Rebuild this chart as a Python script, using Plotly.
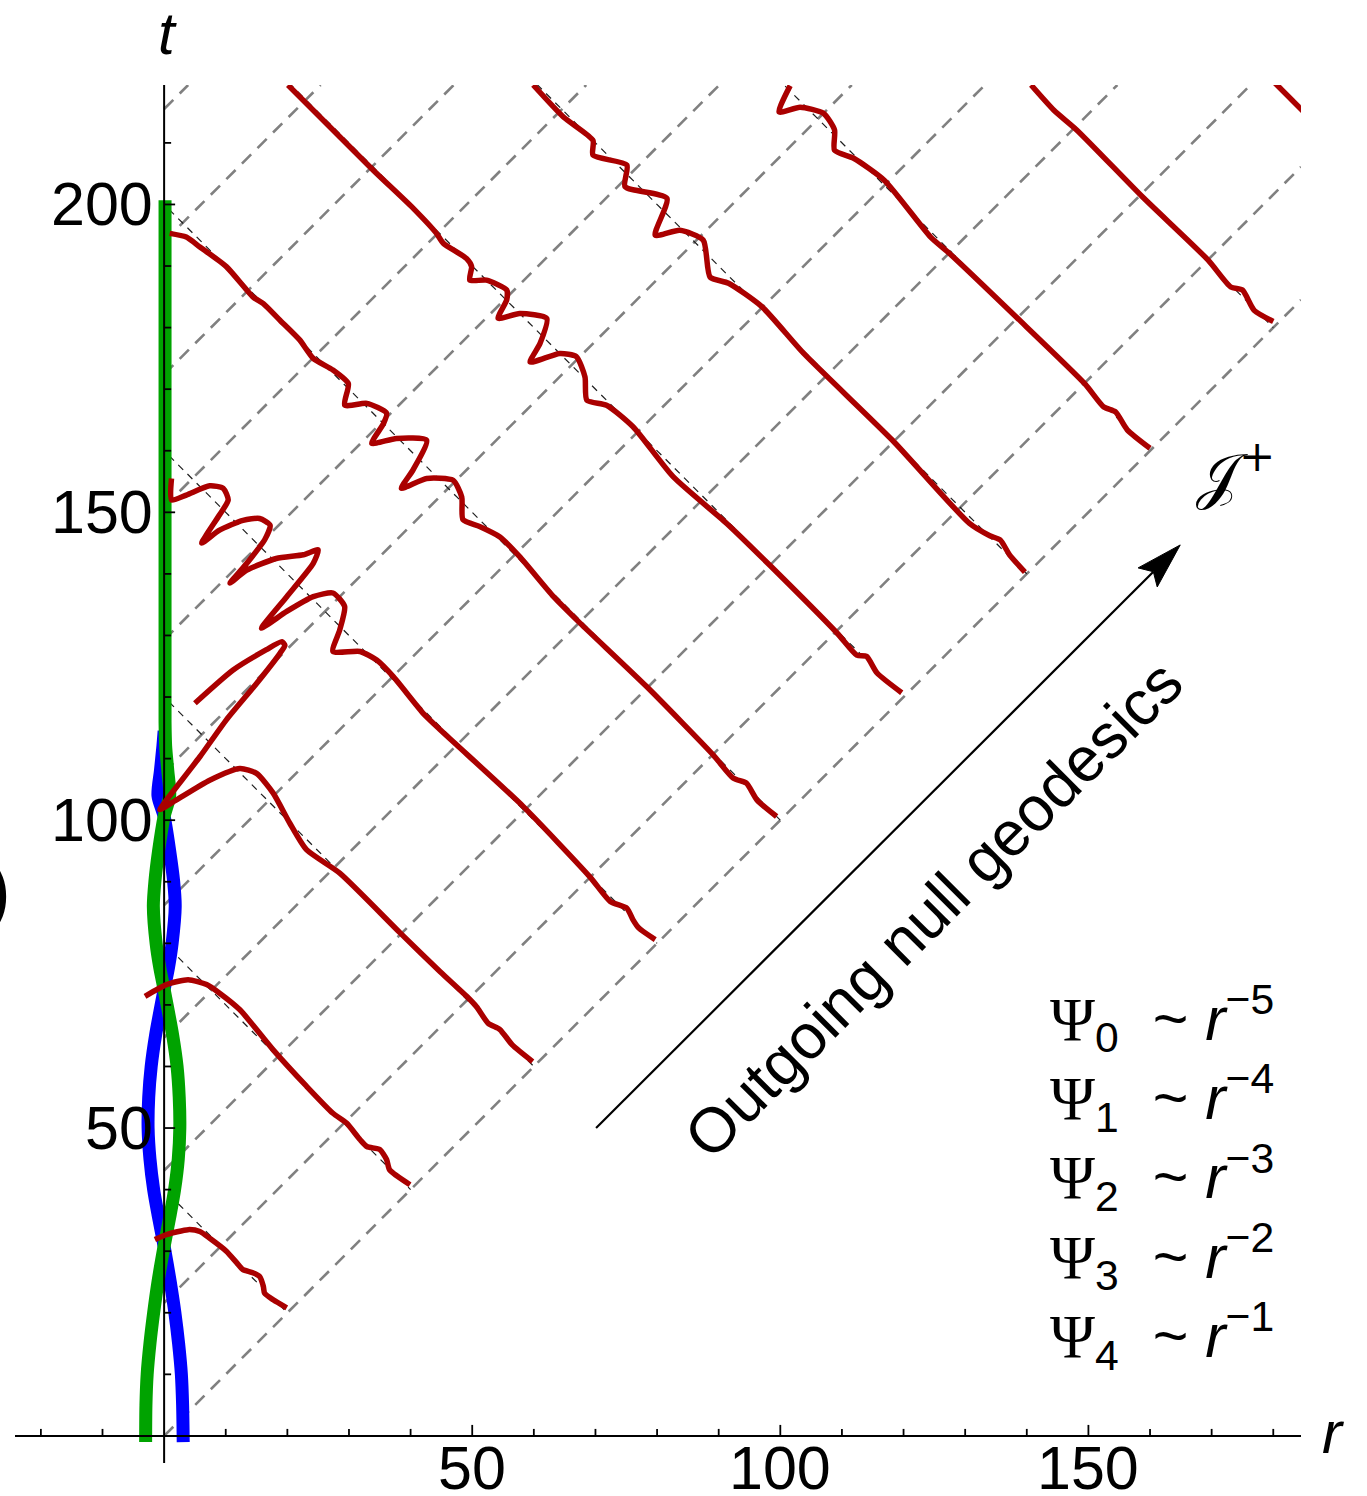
import math
import plotly.graph_objects as go

# ---------------- data ----------------
R_RANGE = [-24.2, 184.5]
T_RANGE = [-4.4, 219.4]

# outgoing null geodesics  t = r + d
NULL_OUT_D = [0.0, 21.6, 43.1, 64.7, 86.2, 107.8, 129.3, 150.9, 172.4, 194.0, 215.5]
# ingoing reference lines  t + r = c
NULL_IN_C = [40, 80, 120, 160, 200, 240, 280, 320, 360, 400]
NULL_IN_R0 = 0.8

# the two thick world-lines near r = 0
GREEN_T = [-1.0, 5, 10, 15, 20, 25, 30.8, 36, 40, 45, 50, 55, 60, 65, 72.5, 76, 80, 86, 90, 95,
           100.6, 104, 108, 112, 116, 200.7]
GREEN_R = [-3.0, -2.95, -2.75, -2.3, -1.7, -1.0, 0.0, 1.0, 1.7, 2.3, 2.55, 2.45, 2.1, 1.4, 0.0,
           -0.7, -1.3, -1.75, -1.5, -0.9, 0.0, 0.9, 0.6, 0.25, 0.15, 0.15]
BLUE_T = [-1.0, 5, 10, 15, 20, 25, 30.8, 36, 40, 45, 50, 55, 60, 65, 72.5, 76, 80, 86, 90, 95,
          100.6, 104, 108, 112, 114.5]
BLUE_R = [3.1, 3.0, 2.8, 2.35, 1.75, 1.0, 0.0, -1.0, -1.7, -2.3, -2.6, -2.5, -2.1, -1.4, 0.0,
          0.7, 1.3, 1.8, 1.55, 0.9, 0.0, -1.0, -0.6, -0.2, 0.0]

# red wave profiles (r, t), one per ingoing line
RED_R_40 = [-1.5, 0.4, 3.9, 5.8, 7.4, 10.1, 11.8, 12.8, 14.4, 15.5, 16.1, 16.3, 17.7, 19.9]
RED_T_40 = [31.9, 32.7, 33.5, 33.2, 32.1, 30.0, 28.1, 27.0, 26.5, 25.9, 24.3, 23.2, 22.1, 20.8]

RED_R_80 = [-3.1, 0.4, 3.9, 6.9, 9.0, 12.3, 17.7, 23.1, 27.4, 29.6, 31.8, 32.9, 35.0, 36.1, 36.6, 39.9]
RED_T_80 = [71.4, 73.3, 74.1, 73.3, 71.9, 69.2, 62.7, 56.8, 52.4, 50.8, 48.1, 47.0, 46.5, 44.9, 43.2, 40.8]

RED_R_120 = [5.0, 11.2, 16.6, 19.1, 19.6, 18.8, 15.0, 10.1, 5.8, 0.4, -0.7, 2.0, 7.4, 12.3, 15.0,
             17.7, 20.4, 23.1, 28.5, 38.3, 44.8, 49.1, 50.7, 52.6, 54.5, 56.5, 59.8]
RED_T_120 = [119.0, 124.4, 127.7, 129.0, 128.4, 127.1, 122.2, 116.3, 110.3, 103.3, 101.7, 103.3,
             106.5, 108.4, 107.6, 104.4, 99.5, 95.2, 91.4, 81.7, 75.4, 71.4, 69.7, 67.0, 66.0, 63.5, 60.8]

RED_R_160 = [1.2, 1.2, 3.6, 7.4, 9.6, 10.4, 9.0, 6.1, 9.0, 12.8, 15.5, 17.2, 16.3, 13.4, 10.7, 13.4,
             18.2, 22.6, 25.0, 24.2, 19.9, 15.8, 19.9, 24.2, 27.4, 29.3, 28.5, 27.4, 31.8, 34.5,
             37.2, 42.0, 44.8, 47.5, 58.3, 69.1, 72.4, 75.1, 76.1, 77.0, 79.7]
RED_T_160 = [155.5, 152.0, 152.8, 154.3, 153.9, 152.0, 149.6, 145.0, 147.1, 148.7, 149.0, 147.9,
             145.5, 141.7, 138.5, 140.6, 142.5, 143.1, 143.9, 141.7, 136.3, 131.2, 133.9, 136.3,
             136.9, 134.7, 130.9, 127.4, 127.4, 126.0, 123.3, 117.4, 114.7, 112.2, 102.2, 90.8,
             86.8, 85.7, 83.8, 82.5, 80.6]

RED_R_200 = [0.9, 3.6, 5.8, 10.1, 14.4, 16.1, 18.8, 22.0, 24.2, 27.4, 29.9, 29.3, 32.9, 36.1, 35.6,
             33.7, 37.7, 42.6, 40.4, 38.5, 42.6, 46.9, 48.3, 48.5, 51.2, 54.5, 57.7, 63.2, 67.5,
             78.3, 89.1, 92.4, 94.5, 96.2, 99.4]
RED_T_200 = [195.3, 194.7, 193.1, 189.9, 185.0, 183.9, 181.2, 178.0, 175.0, 173.1, 170.9, 167.4,
             167.7, 166.1, 164.4, 161.2, 162.0, 161.7, 156.9, 153.9, 155.5, 155.2, 152.5, 148.8,
             147.7, 146.0, 142.8, 136.3, 132.0, 121.7, 110.6, 106.8, 106.0, 103.3, 100.6]

RED_R_240 = [20.1, 23.1, 33.9, 40.4, 44.2, 45.3, 49.1, 49.9, 49.6, 52.3, 55.6, 55.6, 54.2, 57.7,
             62.1, 61.0, 59.4, 64.2, 66.9, 68.3, 68.6, 71.8, 76.1, 82.6, 91.3, 98.3, 109.2, 112.4,
             114.0, 115.7, 119.7]
RED_T_240 = [219.4, 216.4, 205.6, 199.4, 195.3, 193.7, 191.2, 189.9, 187.7, 187.7, 186.1, 184.5,
             181.5, 182.3, 181.5, 177.4, 174.4, 175.8, 175.3, 172.0, 168.2, 167.4, 163.9, 155.8,
             148.2, 141.4, 130.4, 126.8, 126.6, 123.9, 120.7]

RED_R_280 = [59.9, 64.8, 69.6, 69.6, 75.1, 74.8, 81.6, 79.7, 83.7, 87.5, 88.6, 91.6, 97.0, 103.8,
             118.2, 130.7, 134.0, 135.7, 137.2, 139.7]
RED_T_280 = [219.4, 214.2, 210.4, 208.0, 206.4, 202.9, 201.0, 195.0, 195.8, 194.2, 188.2, 187.2,
             183.4, 175.8, 161.7, 148.2, 146.2, 145.5, 143.1, 140.3]

RED_R_320 = [101.6, 99.8, 103.2, 107.0, 108.8, 108.8, 111.9, 116.9, 124.4, 127.5, 138.2, 149.4,
             152.5, 154.4, 156.3, 160.0]
RED_T_320 = [219.3, 215.0, 215.8, 214.8, 212.1, 208.8, 207.5, 203.9, 194.7, 192.0, 181.8, 170.9,
             167.1, 166.3, 163.4, 160.4]

RED_R_360 = [140.7, 144.4, 148.1, 158.8, 169.4, 173.1, 175.0, 176.9, 180.0]
RED_T_360 = [219.4, 215.3, 212.1, 201.2, 191.0, 186.6, 186.1, 182.8, 181.0]

RED_R_400 = [179.8, 186.0]
RED_T_400 = [220.2, 214.0]

# axis ticks
X_MAJOR = [50, 100, 150]
X_MINOR = [-20, -10, 10, 20, 30, 40, 60, 70, 80, 90, 110, 120, 130, 140, 160, 170, 180]
Y_MAJOR = [50, 100, 150, 200]
Y_MINOR = [10, 20, 30, 40, 60, 70, 80, 90, 110, 120, 130, 140, 160, 170, 180, 190, 210]

PSI_LABELS = ["0", "1", "2", "3", "4"]
PSI_POWERS = ["5", "4", "3", "2", "1"]

ARROW_TAIL = (70.1, 50.0)
ARROW_HEAD = (164.9, 144.7)

# ---------------- layout constants ----------------
W, H = 1367, 1496
ML, MR, MT, MB = 15, 66, 85, 33
PW, PH = W - ML - MR, H - MT - MB
UNIT_PX = PW / (R_RANGE[1] - R_RANGE[0])
SANS = "Liberation Sans, Arial, Helvetica, sans-serif"
RED = "rgb(170,0,0)"
GREEN = "rgb(0,163,0)"
BLUE = "rgb(0,0,255)"
FS = 61


def px(xp):
    return (xp - ML) / PW


def py(yp):
    return (H - MB - yp) / PH


fig = go.Figure()

# gray outgoing null geodesics
for d in NULL_OUT_D:
    r_end = min(R_RANGE[1], T_RANGE[1] - d)
    fig.add_trace(go.Scatter(x=[0, r_end], y=[d, r_end + d], mode="lines",
                             line=dict(color="rgb(128,128,128)", width=2.6, dash="13px,9px"),
                             hoverinfo="skip", showlegend=False))

# thin black ingoing reference lines
for c in NULL_IN_C:
    fig.add_trace(go.Scatter(x=[NULL_IN_R0, c / 2], y=[c - NULL_IN_R0, c / 2], mode="lines",
                             line=dict(color="rgb(30,30,30)", width=1.2, dash="7px,6px"),
                             hoverinfo="skip", showlegend=False))

# blue and green world-lines
fig.add_trace(go.Scatter(x=BLUE_R, y=BLUE_T, mode="lines",
                         line=dict(color=BLUE, width=13, shape="spline", smoothing=0.8),
                         hoverinfo="skip", showlegend=False))
fig.add_trace(go.Scatter(x=GREEN_R, y=GREEN_T, mode="lines",
                         line=dict(color=GREEN, width=13, shape="spline", smoothing=0.8),
                         hoverinfo="skip", showlegend=False))

# axes lines
fig.add_trace(go.Scatter(x=[R_RANGE[0], R_RANGE[1], None, 0, 0],
                         y=[0, 0, None, T_RANGE[0], T_RANGE[1]], mode="lines",
                         line=dict(color="black", width=2), hoverinfo="skip", showlegend=False))

# red wave profiles
RED_CURVES = [(RED_R_40, RED_T_40), (RED_R_80, RED_T_80), (RED_R_120, RED_T_120),
              (RED_R_160, RED_T_160), (RED_R_200, RED_T_200), (RED_R_240, RED_T_240),
              (RED_R_280, RED_T_280), (RED_R_320, RED_T_320), (RED_R_360, RED_T_360),
              (RED_R_400, RED_T_400)]
for rr, tt in RED_CURVES:
    fig.add_trace(go.Scatter(x=rr, y=tt, mode="lines",
                             line=dict(color=RED, width=5.5, shape="spline", smoothing=0.6),
                             hoverinfo="skip", showlegend=False))

# arrow (shaft + notched head, head size in pixels)
dx, dy = ARROW_HEAD[0] - ARROW_TAIL[0], ARROW_HEAD[1] - ARROW_TAIL[1]
ln = math.hypot(dx, dy)
ux, uy = dx / ln, dy / ln
nx, ny = -uy, ux
HEAD_L, HEAD_W, NOTCH = 46 / UNIT_PX, 27 / UNIT_PX, 8 / UNIT_PX
hx, hy = ARROW_HEAD
bx, by = hx - HEAD_L * ux, hy - HEAD_L * uy
mx, my = hx - (HEAD_L - NOTCH) * ux, hy - (HEAD_L - NOTCH) * uy
fig.add_trace(go.Scatter(x=[ARROW_TAIL[0], mx], y=[ARROW_TAIL[1], my], mode="lines",
                         line=dict(color="black", width=2.2), hoverinfo="skip", showlegend=False))
fig.add_trace(go.Scatter(x=[hx, bx + HEAD_W / 2 * nx, mx, bx - HEAD_W / 2 * nx, hx],
                         y=[hy, by + HEAD_W / 2 * ny, my, by - HEAD_W / 2 * ny, hy],
                         mode="lines", fill="toself", fillcolor="black",
                         line=dict(color="black", width=1), hoverinfo="skip", showlegend=False))

# ticks
shapes = []
for v in X_MAJOR + X_MINOR:
    L = 11 if v in X_MAJOR else 7
    shapes.append(dict(type="line", xref="x", yref="y", x0=v, x1=v, ysizemode="pixel",
                       yanchor=0, y0=0, y1=L, line=dict(color="black", width=1.8), layer="above"))
for v in Y_MAJOR + Y_MINOR:
    L = 11 if v in Y_MAJOR else 7
    shapes.append(dict(type="line", xref="x", yref="y", y0=v, y1=v, xsizemode="pixel",
                       xanchor=0, x0=0, x1=L, line=dict(color="black", width=1.8), layer="above"))

ann = []
for v in X_MAJOR:
    ann.append(dict(x=v, y=0, xref="x", yref="y", text=str(v), showarrow=False,
                    xanchor="center", yanchor="top", yshift=4,
                    font=dict(size=FS, family=SANS, color="black")))
for v in Y_MAJOR:
    ann.append(dict(x=0, y=v, xref="x", yref="y", text=str(v), showarrow=False,
                    xanchor="right", yanchor="middle", xshift=-9,
                    font=dict(size=FS, family=SANS, color="black")))

# axis labels
ann.append(dict(x=px(167), y=py(33), xref="paper", yref="paper", text="<i>t</i>",
                showarrow=False, xanchor="center", yanchor="middle",
                font=dict(size=60, family=SANS, color="black")))
ann.append(dict(x=px(1333), y=py(1432), xref="paper", yref="paper", text="<i>r</i>",
                showarrow=False, xanchor="center", yanchor="middle",
                font=dict(size=60, family=SANS, color="black")))
# cut-off panel label
ann.append(dict(x=px(13), y=py(890), xref="paper", yref="paper", text=")",
                showarrow=False, xanchor="right", yanchor="middle",
                font=dict(size=78, family=SANS, color="black")))

ann.append(dict(x=124.8, y=85.6, xref="x", yref="y", text="Outgoing null geodesics",
                showarrow=False, textangle=-45, xanchor="center", yanchor="middle",
                font=dict(size=63, family=SANS, color="black")))

# scri plus
ann.append(dict(x=173.8, y=156.6, xref="x", yref="y", text="\U0001D4A5<sup>+</sup>",
                showarrow=False, xanchor="center", yanchor="middle",
                font=dict(size=62, family="DejaVu Serif, Liberation Serif, serif", color="black")))

# falloff list
lines = []
for sub, pw in zip(PSI_LABELS, PSI_POWERS):
    lines.append('<span style="font-family:Liberation Serif">\u03A8</span><sub>' + sub +
                 '</sub>\u00a0\u00a0~\u00a0<i>r</i><sup>\u2212' + pw + '</sup>')
ann.append(dict(x=143.4, y=42.0, xref="x", yref="y", text="<br>".join(lines),
                showarrow=False, xanchor="left", yanchor="middle", align="left",
                font=dict(size=FS, family=SANS, color="black")))

fig.update_layout(
    width=W, height=H,
    margin=dict(l=ML, r=MR, t=MT, b=MB, pad=0, autoexpand=False),
    paper_bgcolor="white", plot_bgcolor="white",
    xaxis=dict(range=R_RANGE, showgrid=False, zeroline=False, showticklabels=False,
               ticks="", showline=False, fixedrange=True),
    yaxis=dict(range=T_RANGE, showgrid=False, zeroline=False, showticklabels=False,
               ticks="", showline=False, fixedrange=True),
    shapes=shapes, annotations=ann, showlegend=False,
)

fig.write_html("out.html", config={"displayModeBar": False})
